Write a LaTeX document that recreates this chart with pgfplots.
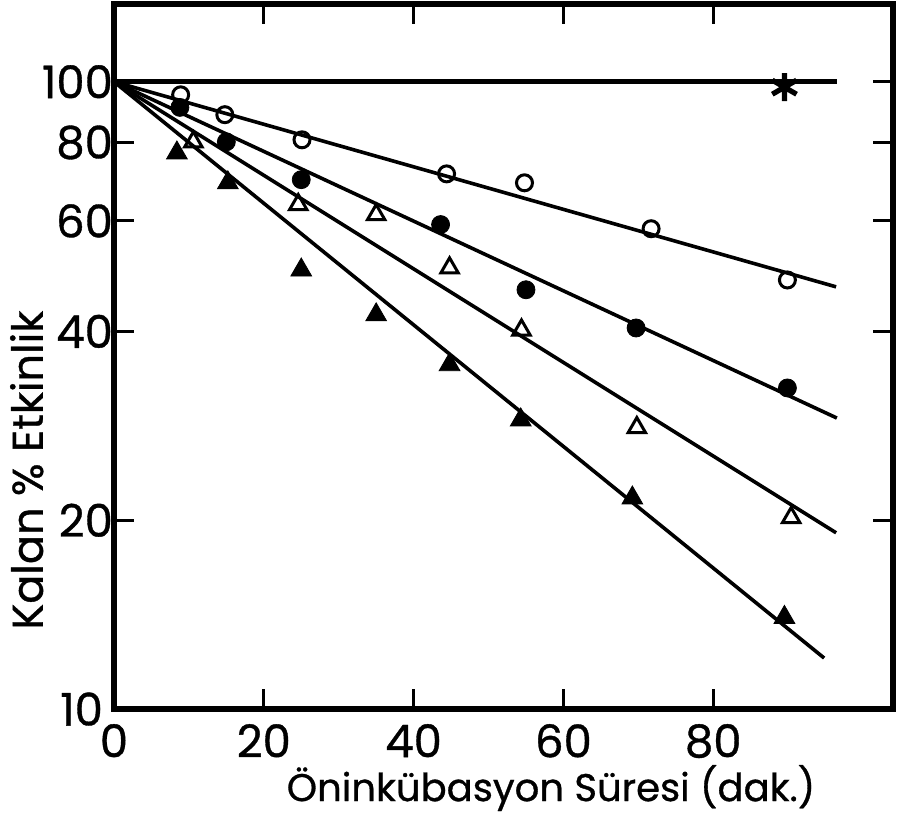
\documentclass[border=0pt]{standalone}
\usepackage{pgfplots}
\pgfplotsset{compat=1.18}
\usepackage{fontspec}
\setmainfont{Poppins}[FakeBold=0.8]
\newcommand\tk{\fontsize{22.5}{26}\selectfont}
\begin{document}
\begin{tikzpicture}
\begin{axis}[
  scale only axis,
  width=389.5pt, height=352.5pt,
  ymode=log,
  xmin=0, xmax=104,
  ymin=10, ymax=133,
  axis line style={line width=3pt},
  xtick={0,20,40,60,80},
  xticklabels={0,20,40,60,80},
  ytick={10,20,40,60,80,100},
  yticklabels={10\rule{5pt}{0pt},20,40,60,80,100},
  yminorticks=false,
  tick align=inside,
  major tick length=10pt,
  tick style={line width=1.5pt, black},
  tick label style={font=\tk},
  /pgf/number format/assume math mode=true,
  yticklabel style={xshift=3pt},
  xticklabel style={yshift=-4pt},
  xlabel={Öninkübasyon Süresi (dak.)},
  ylabel={Kalan \% Etkinlik},
  xlabel style={font=\fontsize{19.3}{23}\selectfont, at={(axis description cs:0.561,-0.112)}, anchor=center},
  ylabel style={font=\fontsize{21.5}{25}\selectfont, at={(axis description cs:-0.112,0.339)}, anchor=center},
  clip=false,
]
% fitted lines
\addplot[line width=2.2pt, black] coordinates {(0,100) (96.5,100)};
\addplot[line width=1.8pt, black] coordinates {(0,100) (96.4,47.1)};
\addplot[line width=1.8pt, black] coordinates {(0,100) (96.5,29.1)};
\addplot[line width=1.8pt, black] coordinates {(0,100) (96.4,19.1)};
\addplot[line width=1.8pt, black] coordinates {(0,100) (94.8,12.06)};
% measured points
\addplot[only marks, mark=asterisk, mark size=7pt, line width=2.6pt, black] coordinates {(89.5,98)};
\addplot[only marks, mark=o, mark size=4pt, line width=1.5pt, black, fill=white] coordinates {
(8.9,95.3) (14.8,88.6) (25.1,80.8) (44.4,71.3) (54.8,69.0) (71.7,58.3) (89.9,48.3)};
\addplot[only marks, mark=*, mark size=4.5pt, black] coordinates {
(8.8,91) (15,80.2) (25,69.8) (43.6,59.2) (55,46.6) (69.7,40.5) (89.9,32.5)};
\addplot[only marks, mark=triangle, mark size=5pt, line width=1.5pt, black] coordinates {
(10.6,80.2) (24.6,63.7) (35,61.4) (44.8,50.5) (54.4,40.2) (69.8,28.1) (90.4,20.2)};
\addplot[only marks, mark=triangle*, mark size=6pt, black] coordinates {
(8.4,77.0) (15.2,69) (25,50.1) (35,42.5) (44.8,35.4) (54.3,28.9) (69.2,21.7) (89.5,14.0)};
\coordinate (bl) at (axis description cs:-0.1463,-0.1489);
\coordinate (tr) at (axis description cs:1.0051,1.0057);
\end{axis}
\path (bl) rectangle (tr);
\end{tikzpicture}
\end{document}
